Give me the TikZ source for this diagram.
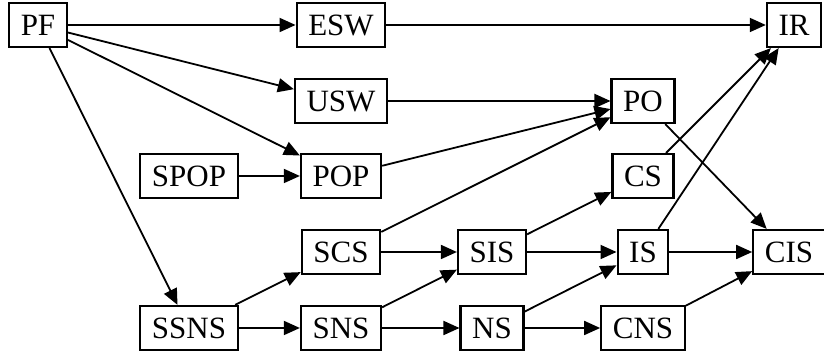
\documentclass[tikz,border=0pt]{standalone}
\usepackage{fontspec}
\setmainfont{Liberation Serif}
\usetikzlibrary{arrows.meta}
\tikzset{
  blk/.style={draw,line width=1.1pt,inner xsep=5.8pt,inner ysep=0pt,minimum height=22pt,font=\fontsize{15.5}{18}\selectfont},
  lnk/.style={line width=0.9pt,-{Triangle[length=8pt,width=7pt]}},
  every picture/.style={x=0.5pt,y=-0.5pt}
}
\begin{document}
\begin{tikzpicture}
  \useasboundingbox (0,0) rectangle (824,356);
  % top rows
  \node[blk] (pf) at (38,25) {PF}; \node[blk] (esw) at (341,25) {ESW}; \node[blk] (ir) at (794,25) {IR};
  \node[blk] (usw) at (341,101) {USW}; \node[blk] (po) at (643,101) {PO};
  \node[blk] (spop) at (189,176) {SPOP}; \node[blk] (pop) at (341,176) {POP}; \node[blk] (cs) at (643,176) {CS};
  % bottom rows
  \node[blk] (scs) at (341,252) {SCS}; \node[blk] (sis) at (492,252) {SIS}; \node[blk] (is) at (643,252) {IS}; \node[blk] (cis) at (789,252) {CIS};
  \node[blk] (ssns) at (189,328) {SSNS}; \node[blk] (sns) at (341,328) {SNS}; \node[blk] (ns) at (492,328) {NS}; \node[blk] (cns) at (643,328) {CNS};
  \foreach \a/\b in {pf/esw,esw/ir,pf/usw,pf/pop,pf/ssns,usw/po,pop/po,scs/po,spop/pop,po/cis,cs/ir,is/ir,
    sis/cs,scs/sis,sis/is,is/cis,ssns/scs,ssns/sns,sns/sis,sns/ns,ns/is,ns/cns,cns/cis}
    \draw[lnk] (\a) -- (\b);
\end{tikzpicture}
\end{document}
